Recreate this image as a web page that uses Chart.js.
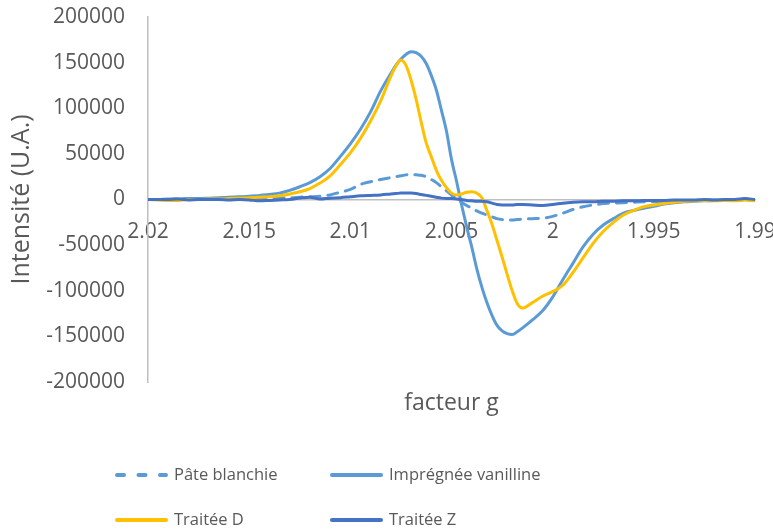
<!DOCTYPE html>
<html>
<head>
<meta charset="utf-8">
<script src="https://cdn.jsdelivr.net/npm/chart.js@4.4.0/dist/chart.umd.min.js"></script>
<style>
  html, body { margin: 0; padding: 0; background: #fff; }
  #wrap { position: relative; width: 773px; height: 531px; }
</style>
</head>
<body>
<div id="wrap"><canvas id="rpeChart"></canvas></div>
<script>
// g factor (shared x values, finer around the signal)
const gFactor = [
  2.0200, 2.0195, 2.0190, 2.0185, 2.0180, 2.0175, 2.0170, 2.0165, 2.0160, 2.0155,
  2.0150, 2.0145, 2.0140, 2.0135, 2.0130, 2.0125, 2.0120, 2.0115, 2.0110, 2.0105,
  2.0100, 2.0095, 2.0090, 2.0085, 2.0080, 2.00775, 2.0075, 2.00725, 2.0070, 2.00675,
  2.0065, 2.00625, 2.0060, 2.00575, 2.0055, 2.00525, 2.0050, 2.00475, 2.0045, 2.00425,
  2.0040, 2.00375, 2.0035, 2.00325, 2.0030, 2.00275, 2.0025, 2.00225, 2.0020, 2.00175,
  2.0015, 2.0010, 2.0005, 2.0000, 1.9995, 1.9990, 1.9985, 1.9980, 1.9975, 1.9970,
  1.9965, 1.9960, 1.9955, 1.9950, 1.9945, 1.9940, 1.9935, 1.9930, 1.9925, 1.9920,
  1.9915, 1.9910, 1.9905, 1.9900
];

const pateBlanchie = [
  0, 0, 0, 500, 500, 500, 500, 1000, 1000, 1000,
  1500, 1500, 1500, 2000, 2000, 2500, 3000, 3500, 5000, 8000,
  11000, 16500, 19500, 22000, 24000, 25000, 26000, 27000, 27500, 27000,
  26500, 25000, 22000, 18500, 14000, 9500, 5000, 1000, -3000, -6500,
  -9500, -12500, -15000, -17000, -19000, -21000, -22000, -22500, -22500, -22000,
  -21500, -21000, -20500, -18500, -15000, -11000, -8000, -6000, -4500, -4000,
  -3500, -3000, -2500, -2500, -2000, -1500, -1000, -1000, -500, -500,
  0, -500, 500, -1000
];

const impregneeVanilline = [
  0, 0, 500, 500, 1000, 1000, 1500, 2000, 2500, 3000,
  3500, 4500, 5500, 7000, 10000, 14000, 18500, 25000, 34000, 47000,
  61000, 77000, 96000, 119000, 138000, 147000, 154000, 159000, 162000, 161000,
  157000, 149000, 136000, 120000, 98000, 75000, 44000, 20000, -6000, -30000,
  -52000, -76000, -96000, -113000, -127000, -138000, -144000, -147000, -148000, -145000,
  -141000, -132000, -122000, -107000, -88000, -70000, -52000, -38000, -28000, -21000,
  -15000, -12000, -9500, -7500, -5000, -3500, -2500, -2000, -1500, -1000,
  -500, -1000, 0, -1000
];

const traiteeD = [
  0, -500, -1000, -1000, 0, 0, 500, 500, 1000, 1500,
  2000, 2500, 3000, 4000, 6000, 8500, 12000, 18000, 26000, 38000,
  51000, 67000, 86000, 108000, 135000, 146000, 153000, 147000, 131000, 110000,
  85000, 62000, 47000, 32000, 21000, 13000, 7000, 5000, 6000, 8000,
  8500, 7000, 2000, -12000, -27000, -45000, -63000, -82000, -100000, -114000,
  -119000, -113000, -106000, -101000, -94000, -80000, -64000, -48000, -35000, -25000,
  -17000, -12000, -8000, -6000, -4500, -3000, -2000, -1500, -1000, -1500,
  -1000, -1500, -500, -1500
];

const traiteeZ = [
  0, 0, 0, 500, -500, 0, 0, 0, -500, 0,
  -500, -1500, -1000, -500, 0, 1500, 2500, 500, 1500, 2000,
  3000, 4000, 4500, 5000, 6000, 6500, 7000, 7000, 7000, 6500,
  5500, 4500, 3500, 2500, 1500, 1000, 1000, 500, 0, -1000,
  -1500, -2000, -2000, -2500, -4000, -5500, -6000, -6000, -6000, -5500,
  -5500, -6000, -6500, -5500, -4000, -3000, -2500, -2500, -2000, -2000,
  -1500, -1500, -1000, -1000, -1000, -500, -500, -500, 0, -500,
  0, 0, 1000, 0
];

const seriesNames = ['Pâte blanchie', 'Imprégnée vanilline', 'Traitée D', 'Traitée Z'];
const gTicks = [2.02, 2.015, 2.01, 2.005, 2, 1.995, 1.99];

const textColor = '#595959';
Chart.defaults.font.family = '"Open Sans", sans-serif';
Chart.defaults.color = textColor;

const toPoints = (vals) => gFactor.map((g, i) => ({ x: g, y: vals[i] }));

// 2 x 2 legend under the plot, like the spreadsheet one
const gridLegend = {
  id: 'gridLegend',
  afterDraw(chart) {
    const ctx = chart.ctx;
    const cols = [115, 330];
    const rows = [475, 520];
    chart.data.datasets.forEach((ds, i) => {
      const x = cols[i % 2];
      const y = rows[Math.floor(i / 2)];
      ctx.save();
      ctx.strokeStyle = ds.borderColor;
      ctx.lineWidth = 4;
      ctx.lineCap = 'round';
      ctx.setLineDash(ds.borderDash ? [7, 14.5] : []);
      ctx.beginPath();
      ctx.moveTo(x + 2, y);
      ctx.lineTo(x + 51, y);
      ctx.stroke();
      ctx.setLineDash([]);
      ctx.fillStyle = textColor;
      ctx.font = '16.5px "Open Sans"';
      ctx.textBaseline = 'middle';
      ctx.fillText(ds.label, x + 59, y);
      ctx.restore();
    });
  }
};

new Chart(document.getElementById('rpeChart'), {
  type: 'line',
  data: {
    datasets: [
      { label: seriesNames[0], data: toPoints(pateBlanchie), borderColor: '#5B9BD5', borderDash: [10, 8], borderCapStyle: 'round', order: 4 },
      { label: seriesNames[1], data: toPoints(impregneeVanilline), borderColor: '#5B9BD5', order: 3 },
      { label: seriesNames[2], data: toPoints(traiteeD), borderColor: '#FFC000', order: 2 },
      { label: seriesNames[3], data: toPoints(traiteeZ), borderColor: '#4472C4', order: 1 }
    ]
  },
  options: {
    responsive: true,
    maintainAspectRatio: false,
    animation: false,
    layout: { padding: { top: 17, right: 18, bottom: 114, left: 0 } },
    elements: {
      point: { radius: 0 },
      line: { borderWidth: 3, cubicInterpolationMode: 'monotone', fill: false }
    },
    plugins: {
      legend: { display: false },
      tooltip: { enabled: false }
    },
    scales: {
      x: {
        type: 'linear',
        reverse: true,
        min: 1.99,
        max: 2.02,
        position: { y: 0 },
        afterBuildTicks: (s) => { s.ticks = gTicks.map(v => ({ value: v })); },
        afterFit: (s) => { s.paddingLeft = 0; s.paddingRight = 0; },
        grid: { display: false, drawTicks: false },
        border: { color: '#bfbfbf', width: 1.5 },
        ticks: { padding: 20, autoSkip: false, maxRotation: 0, font: { size: 21 }, color: textColor, callback: (v) => String(v) }
      },
      xTitle: {
        type: 'linear',
        axis: 'x',
        position: 'bottom',
        reverse: true,
        min: 1.99,
        max: 2.02,
        grid: { display: false, drawTicks: false },
        border: { display: false },
        ticks: { display: false },
        title: { display: true, text: 'facteur g', font: { size: 23 }, color: textColor, padding: { top: 7, bottom: 0 } },
        afterFit: (s) => { s.height = 35; }
      },
      y: {
        min: -200000,
        max: 200000,
        grid: { display: false, drawTicks: false },
        border: { color: '#bfbfbf', width: 1.5 },
        ticks: { stepSize: 50000, padding: 23, font: { size: 21 }, color: textColor, callback: (v) => String(v) },
        title: { display: true, text: 'Intensité (U.A.)', font: { size: 25 }, color: textColor, padding: { top: 7, bottom: 0 } },
        afterFit: (s) => { s.width = 148; s.paddingTop = 0; s.paddingBottom = 0; }
      }
    }
  },
  plugins: [gridLegend]
});
</script>
</body>
</html>
